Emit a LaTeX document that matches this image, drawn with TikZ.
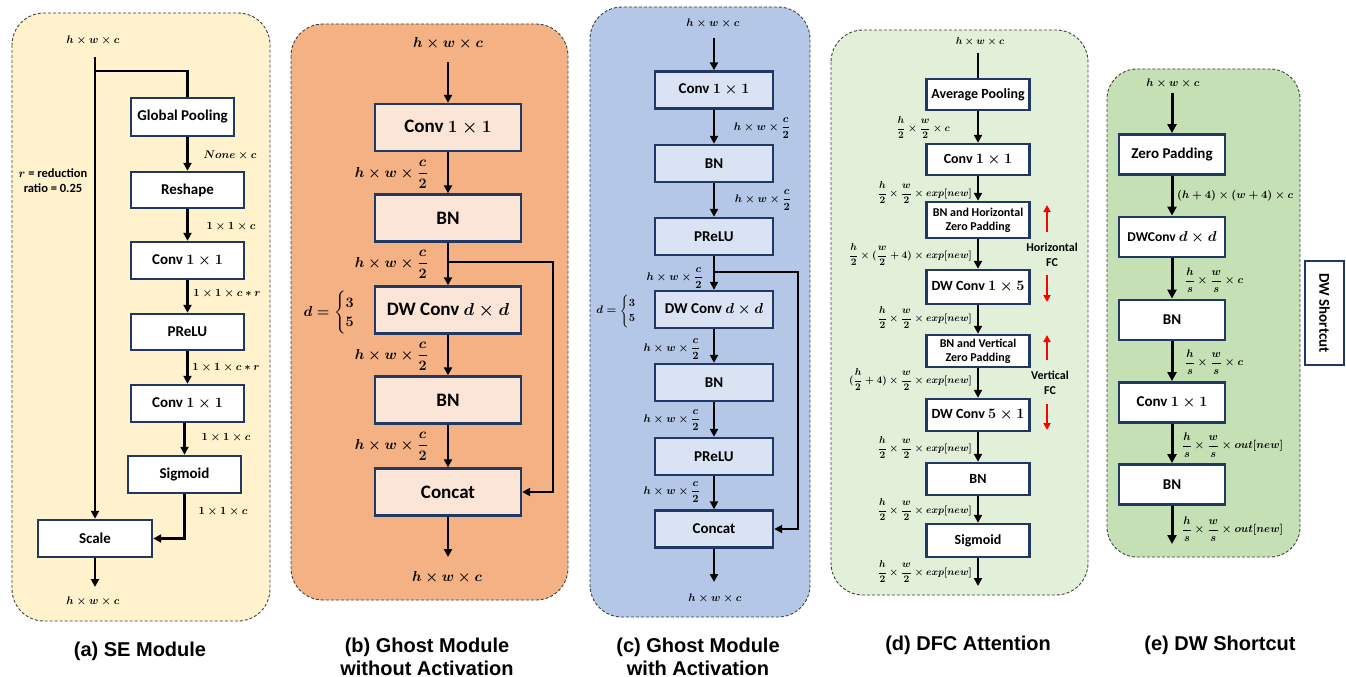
\documentclass[tikz,border=0pt]{standalone}
\usepackage{amsmath,bm}
\usepackage[no-math]{fontspec}
\setmainfont{Carlito}
\newfontfamily\capfont{Liberation Sans}
\usetikzlibrary{arrows.meta}
\definecolor{boxline}{HTML}{203864}
\definecolor{seFill}{HTML}{FFF2CC}
\definecolor{gmFill}{HTML}{F4B183}
\definecolor{gmBox}{HTML}{FBE5D6}
\definecolor{gaFill}{HTML}{B4C7E7}
\definecolor{gaBox}{HTML}{DAE3F3}
\definecolor{dfcFill}{HTML}{E2F0D9}
\definecolor{dwFill}{HTML}{C5E0B4}
\definecolor{panelEdge}{HTML}{404040}

\begin{document}
\begin{tikzpicture}[x=1pt,y=-1pt,
  panel/.style={draw=panelEdge, line width=0.9pt, dash pattern=on 3pt off 2pt, rounded corners=32pt},
  blk/.style={draw=boxline, line width=2.4pt, fill=white, inner sep=1pt, align=center,
              font=\fontsize{15}{17}\selectfont\bfseries\boldmath},
  blkb/.style={blk, fill=gmBox, minimum width=146, minimum height=47,
              font=\fontsize{19}{22}\selectfont\bfseries\boldmath},
  blkc/.style={blk, fill=gaBox, minimum width=118, minimum height=37},
  blkd/.style={blk, minimum width=103, font=\fontsize{14}{16}\selectfont\bfseries\boldmath},
  blkds/.style={blk, minimum width=103, font=\fontsize{12}{14}\selectfont\bfseries\boldmath},
  blke/.style={blk, line width=2.8pt, minimum width=106, minimum height=40},
  wire/.style={line width=2.4pt},
  flow/.style={wire, -{Triangle[length=8pt,width=8pt]}},
  flowe/.style={line width=3pt, -{Triangle[length=9pt,width=9pt]}},
  dim/.style={inner sep=0pt, font=\fontsize{11.3}{13}\selectfont\boldmath},
  dimb/.style={inner sep=0pt, font=\fontsize{13.5}{16}\selectfont\boldmath},
  dimd/.style={inner sep=0pt, font=\fontsize{10}{12}\selectfont\boldmath},
  note/.style={inner sep=0pt, align=center, font=\fontsize{12.5}{15}\selectfont\bfseries\boldmath},
  caption/.style={inner sep=0pt, align=center, font=\capfont\fontsize{20}{23}\selectfont\bfseries},
  fc/.style={draw=red, line width=2.2pt, -{Triangle[length=7pt,width=7pt]}}
]
\useasboundingbox (0,0) rectangle (1346,677);

% ---------------- (a) SE module ----------------
\draw[panel, fill=seFill] (12,13) rectangle (270,621);
\node[blk, minimum width=103, minimum height=38] (a1) at (182.5,117) {Global Pooling};
\node[blk, minimum width=113, minimum height=36] (a2) at (187.5,190) {Reshape};
\node[blk, minimum width=113, minimum height=37] (a3) at (187.5,260.5) {Conv $1\times 1$};
\node[blk, minimum width=113, minimum height=36] (a4) at (187.5,332) {PReLU};
\node[blk, minimum width=113, minimum height=37] (a5) at (187.5,403.5) {Conv $1\times 1$};
\node[blk, minimum width=113, minimum height=37] (a6) at (184.5,474.5) {Sigmoid};
\node[blk, minimum width=114, minimum height=37] (a7) at (95,538.5) {Scale};

\node[dim] (aTop) at (93,40) {$h\times w\times c$};
\node[dim] (aL1) at (230,155) {$None\times c$};
\node[dim] (aL2) at (231,227) {$1\times 1\times c$};
\node[dim] (aL3) at (227,294) {$1\times 1\times c\ast r$};
\node[dim] (aL4) at (226,368) {$1\times 1\times c\ast r$};
\node[dim] (aL5) at (226,438) {$1\times 1\times c$};
\node[dim] (aL6) at (223,512) {$1\times 1\times c$};
\node[note] (aRatio) at (53,180.5) {$r$ = reduction\\ratio = 0.25};
\node[dim] (aBot) at (93,601) {$h\times w\times c$};

\coordinate (aIn) at (95,57);
\coordinate (aSplit) at (95,71);
\coordinate (aOut) at (95,587);
\draw[flow] (aIn) -- (a7.north);
\draw[wire] (aSplit) -| (a1.north -| a2.north);
\draw[flow] (a1.south -| a2.north) -- (a2.north);
\draw[flow] (a2.south) -- (a3.north);
\draw[flow] (a3.south) -- (a4.north);
\draw[flow] (a4.south) -- (a5.north);
\draw[flow] (a5.south -| a6.north) -- (a6.north);
\draw[flow] (a6.south) |- (a7.east);
\draw[flow] (a7.south) -- (aOut);

% ---------------- (b) Ghost module without activation ----------------
\draw[panel, fill=gmFill] (291,24) rectangle (568,600);
\node[blkb] (b1) at (448,127.5) {Conv $1\times 1$};
\node[blkb] (b2) at (448,218) {BN};
\node[blkb] (b3) at (448,310) {DW Conv $d\times d$};
\node[blkb] (b4) at (448,400) {BN};
\node[blkb] (b5) at (448,492) {Concat};

\node[dimb] (bTop) at (448,43) {$h\times w\times c$};
\node[dimb, anchor=east] (bL1) at (428,174) {$h\times w\times\dfrac{c}{2}$};
\node[dimb, anchor=east] (bL2) at (428,264) {$h\times w\times\dfrac{c}{2}$};
\node[dimb, anchor=east] (bL3) at (428,356) {$h\times w\times\dfrac{c}{2}$};
\node[dimb, anchor=east] (bL4) at (428,446) {$h\times w\times\dfrac{c}{2}$};
\node[dimb] (bD) at (336,313) {$d=\begin{cases}3\\5\end{cases}$};
\node[dimb] (bBot) at (447,577) {$h\times w\times c$};

\coordinate (bIn) at (448,62);
\coordinate (bSplit) at (448,262);
\coordinate (bTurn) at (553,262);
\coordinate (bOut) at (448,557);
\draw[flow] (bIn) -- (b1.north);
\draw[flow] (b1.south) -- (b2.north);
\draw[flow] (b2.south) -- (b3.north);
\draw[flow] (b3.south) -- (b4.north);
\draw[flow] (b4.south) -- (b5.north);
\draw[flow] (b5.south) -- (bOut);
\draw[flow] (bSplit) -- (bTurn) |- (b5.east);

% ---------------- (c) Ghost module with activation ----------------
\draw[panel, fill=gaFill] (590,7) rectangle (810,617);
\node[blkc] (c1) at (714,90) {Conv $1\times 1$};
\node[blkc] (c2) at (714,163.5) {BN};
\node[blkc] (c3) at (714,236.5) {PReLU};
\node[blkc] (c4) at (714,309.5) {DW Conv $d\times d$};
\node[blkc] (c5) at (714,382.5) {BN};
\node[blkc] (c6) at (714,456.5) {PReLU};
\node[blkc] (c7) at (714,529) {Concat};

\node[dim] (cTop) at (713,23) {$h\times w\times c$};
\node[dim] (cL1) at (762,128) {$h\times w\times\dfrac{c}{2}$};
\node[dim] (cL2) at (763,200) {$h\times w\times\dfrac{c}{2}$};
\node[dim, anchor=east] (cL3) at (703,278) {$h\times w\times\dfrac{c}{2}$};
\node[dim, anchor=east] (cL4) at (700,349) {$h\times w\times\dfrac{c}{2}$};
\node[dim, anchor=east] (cL5) at (700,420) {$h\times w\times\dfrac{c}{2}$};
\node[dim, anchor=east] (cL6) at (700,492) {$h\times w\times\dfrac{c}{2}$};
\node[dim] (cD) at (622,311) {$d=\begin{cases}3\\5\end{cases}$};
\node[dim] (cBot) at (715,598) {$h\times w\times c$};

\coordinate (cIn) at (714,38);
\coordinate (cSplit) at (714,272);
\coordinate (cTurn) at (798,272);
\coordinate (cOut) at (714,582);
\draw[flow] (cIn) -- (c1.north);
\draw[flow] (c1.south) -- (c2.north);
\draw[flow] (c2.south) -- (c3.north);
\draw[flow] (c3.south) -- (c4.north);
\draw[flow] (c4.south) -- (c5.north);
\draw[flow] (c5.south) -- (c6.north);
\draw[flow] (c6.south) -- (c7.north);
\draw[flow] (c7.south) -- (cOut);
\draw[flow] (cSplit) -- (cTurn) |- (c7.east);

% ---------------- (d) DFC attention ----------------
\draw[panel, fill=dfcFill] (831,30) rectangle (1088,595);
\node[blkd, minimum height=31] (d1) at (978,94.5) {Average Pooling};
\node[blkd, minimum height=31] (d2) at (978,159.5) {Conv $1\times 1$};
\node[blkds, minimum height=36] (d3) at (978,220) {BN and Horizontal\\Zero Padding};
\node[blkd, minimum height=34] (d4) at (978,287) {DW Conv $1\times 5$};
\node[blkds, minimum height=32] (d5) at (978,351) {BN and Vertical\\Zero Padding};
\node[blkd, minimum height=32] (d6) at (978,415) {DW Conv $5\times 1$};
\node[blkd, minimum height=32] (d7) at (978,479) {BN};
\node[blkd, minimum height=33] (d8) at (978,540.5) {Sigmoid};

\node[dimd] (dTop) at (980,42) {$h\times w\times c$};
\node[dimd, anchor=east] (dL1) at (950,128) {$\dfrac{h}{2}\times\dfrac{w}{2}\times c$};
\node[dimd, anchor=east] (dL2) at (972,193) {$\dfrac{h}{2}\times\dfrac{w}{2}\times exp[new]$};
\node[dimd, anchor=east] (dL3) at (972,255) {$\dfrac{h}{2}\times(\dfrac{w}{2}+4)\times exp[new]$};
\node[dimd, anchor=east] (dL4) at (972,318) {$\dfrac{h}{2}\times\dfrac{w}{2}\times exp[new]$};
\node[dimd, anchor=east] (dL5) at (972,380) {$(\dfrac{h}{2}+4)\times\dfrac{w}{2}\times exp[new]$};
\node[dimd, anchor=east] (dL6) at (972,448) {$\dfrac{h}{2}\times\dfrac{w}{2}\times exp[new]$};
\node[dimd, anchor=east] (dL7) at (972,510) {$\dfrac{h}{2}\times\dfrac{w}{2}\times exp[new]$};
\node[dimd, anchor=east] (dL8) at (972,572) {$\dfrac{h}{2}\times\dfrac{w}{2}\times exp[new]$};
\node[note, font=\fontsize{12}{15}\selectfont\bfseries] (dH) at (1052,255) {Horizontal\\FC};
\node[note, font=\fontsize{12}{15}\selectfont\bfseries] (dV) at (1050,383) {Vertical\\FC};

\coordinate (dIn) at (978,53);
\coordinate (dOut) at (978,586);
\draw[wire] (dIn) -- (d1.north);
\draw[flow] (d1.south) -- (d2.north);
\draw[flow] (d2.south) -- (d3.north);
\draw[flow] (d3.south) -- (d4.north);
\draw[flow] (d4.south) -- (d5.north);
\draw[flow] (d5.south) -- (d6.north);
\draw[flow] (d6.south) -- (d7.north);
\draw[flow] (d7.south) -- (d8.north);
\draw[flow] (d8.south) -- (dOut);

\coordinate (hUpA) at (1047,232);
\coordinate (hUpB) at (1047,205);
\coordinate (hDnA) at (1047,275);
\coordinate (hDnB) at (1047,302);
\coordinate (vUpA) at (1047,360);
\coordinate (vUpB) at (1047,335);
\coordinate (vDnA) at (1047,404);
\coordinate (vDnB) at (1047,430);
\draw[fc] (hUpA) -- (hUpB);
\draw[fc] (hDnA) -- (hDnB);
\draw[fc] (vUpA) -- (vUpB);
\draw[fc] (vDnA) -- (vDnB);

% ---------------- (e) DW shortcut ----------------
\draw[panel, fill=dwFill, rounded corners=30pt] (1107,69) rectangle (1300,557);
\node[blke] (e1) at (1172,154.5) {Zero Padding};
\node[blke, font=\fontsize{13.5}{16}\selectfont\bfseries\boldmath] (e2) at (1172,237) {DWConv $d\times d$};
\node[blke] (e3) at (1172,320) {BN};
\node[blke] (e4) at (1172,402.5) {Conv $1\times 1$};
\node[blke] (e5) at (1172,484.5) {BN};
\node[blk, line width=2.8pt, rotate=-90, minimum width=104, minimum height=39] (eTag) at (1324.5,313) {DW Shortcut};

\node[dim] (eTop) at (1173,83.5) {$h\times w\times c$};
\node[dim, anchor=west] (eL1) at (1177,196) {$(h+4)\times(w+4)\times c$};
\node[dim, anchor=west] (eL2) at (1185,280) {$\dfrac{h}{s}\times\dfrac{w}{s}\times c$};
\node[dim, anchor=west] (eL3) at (1185,362) {$\dfrac{h}{s}\times\dfrac{w}{s}\times c$};
\node[dim, anchor=west] (eL4) at (1182,445) {$\dfrac{h}{s}\times\dfrac{w}{s}\times out[new]$};
\node[dim, anchor=west] (eL5) at (1182,529) {$\dfrac{h}{s}\times\dfrac{w}{s}\times out[new]$};

\coordinate (eIn) at (1172,93);
\coordinate (eOut) at (1172,544);
\draw[flowe] (eIn) -- (e1.north);
\draw[flowe] (e1.south) -- (e2.north);
\draw[flowe] (e2.south) -- (e3.north);
\draw[flowe] (e3.south) -- (e4.north);
\draw[flowe] (e4.south) -- (e5.north);
\draw[flowe] (e5.south) -- (eOut);

% ---------------- captions ----------------
\node[caption] (capA) at (140,651) {(a) SE Module};
\node[caption] (capB) at (427,656.5) {(b) Ghost Module\\without Activation};
\node[caption] (capC) at (698,656.5) {(c) Ghost Module\\with Activation};
\node[caption] (capD) at (968,645) {(d) DFC Attention};
\node[caption] (capE) at (1220,645) {(e) DW Shortcut};
\end{tikzpicture}
\end{document}
